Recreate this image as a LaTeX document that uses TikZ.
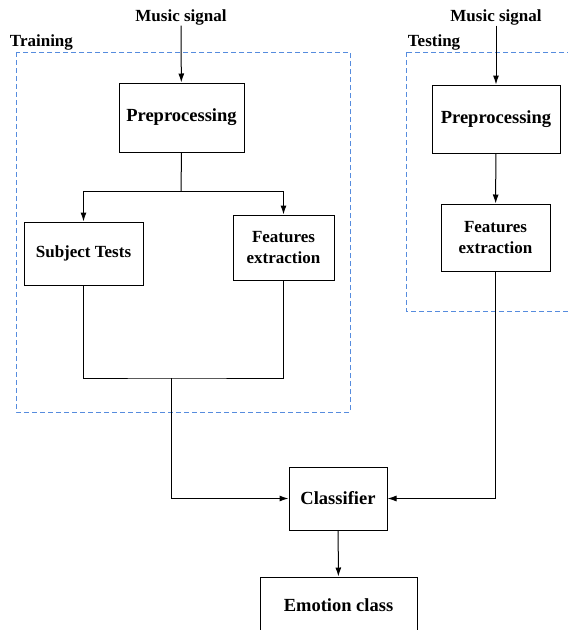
\documentclass[tikz,border=0pt]{standalone}
\usepackage{fontspec}
\setmainfont{Liberation Serif}
\usepackage{tikz}
\usetikzlibrary{arrows.meta}

\definecolor{frameblue}{RGB}{86,140,222}

\tikzset{
  stage/.style={draw, line width=1pt, align=center, inner sep=2pt,
    font=\fontsize{17}{21}\selectfont\bfseries},
  bigstage/.style={stage, font=\fontsize{18.5}{22}\selectfont\bfseries},
  caption/.style={inner sep=0.75pt, font=\fontsize{17}{20}\selectfont\bfseries},
  frame/.style={draw=frameblue, line width=1pt, dash pattern=on 5pt off 3pt},
  wire/.style={line width=1pt},
  flow/.style={wire, -{Latex[length=9pt,width=6pt]}}
}

\begin{document}
\begin{tikzpicture}[x=1pt,y=1pt,yscale=-1,xscale=1]
\clip (0,0) rectangle (568,630);

%Shape: dashed frames
\draw [frame] (16,52) rectangle (350,412);
\draw [frame] (406,52) rectangle (610,311);

% Text Node
\node [caption, anchor=west] (train) at (9,42) {Training};
% Text Node
\node [caption, anchor=west] (test) at (407,42) {Testing};
% Text Node
\node [caption] (sigA) at (181,17) {Music signal};
% Text Node
\node [caption] (sigB) at (496,17) {Music signal};

%Shape: training boxes
\node [bigstage, minimum width=125, minimum height=69] (preA) at (181.5,117.5) {Preprocessing};
\node [stage, minimum width=119, minimum height=63] (subj) at (83.5,253.5) {Subject Tests};
\node [stage, minimum width=101, minimum height=65] (featA) at (283.5,247.5) {Features\\extraction};

%Shape: testing boxes
\node [bigstage, minimum width=128, minimum height=68] (preB) at (496,119) {Preprocessing};
\node [stage, minimum width=109, minimum height=67] (featB) at (495.5,237.5) {Features\\extraction};

%Shape: classifier and output
\node [bigstage, minimum width=98, minimum height=63] (clf) at (338,498.5) {Classifier};
\node [bigstage, minimum width=157, minimum height=56] (emo) at (338.5,605) {Emotion class};

\coordinate (split) at (181,191);
\coordinate (join) at (171,378);

%Straight Lines
\draw [flow] (sigA) -- (preA);
\draw [wire] (preA.south) -- (split);
\draw [flow] (split) -| (subj.north);
\draw [flow] (split) -| (featA.north);
\draw [wire] (subj.south) |- (join) -| (featA.south);
\draw [flow] (join) |- (clf.west);

\draw [flow] (sigB) -- (preB);
\draw [flow] (preB) -- (featB);
\draw [flow] (featB.south) |- (clf.east);

\draw [flow] (clf) -- (emo);

\end{tikzpicture}
\end{document}
